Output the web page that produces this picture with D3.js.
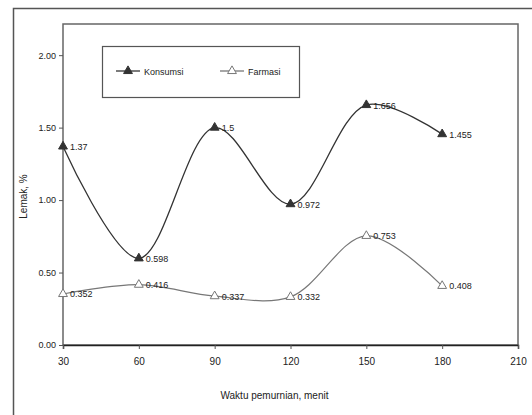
<!DOCTYPE html>
<html>
<head>
<meta charset="utf-8">
<script src="https://cdn.jsdelivr.net/npm/d3@7/dist/d3.min.js"></script>
<style>
  html, body { margin: 0; padding: 0; background: #fff; }
  svg { display: block; font-family: "Liberation Sans", Arial, sans-serif; }
</style>
</head>
<body>
<svg id="chart" width="532" height="415"></svg>
<script>
// Fat content (%) by purification time (minutes)
const waktu = [30, 60, 90, 120, 150, 180];
const konsumsi = [1.37, 0.598, 1.50, 0.972, 1.656, 1.455];
const farmasi = [0.352, 0.416, 0.337, 0.332, 0.753, 0.408];
const konsumsiLabels = ["1.37", "0.598", "1.5", "0.972", "1.656", "1.455"];
const farmasiLabels = ["0.352", "0.416", "0.337", "0.332", "0.753", "0.408"];
const xTicks = [30, 60, 90, 120, 150, 180, 210];
const yTicks = [0, 0.5, 1.0, 1.5, 2.0];
const seriesNames = ["Konsumsi", "Farmasi"];

const svg = d3.select("#chart");
const plot = { left: 63, right: 518, top: 24, bottom: 345 };

const x = d3.scaleLinear().domain([30, 210]).range([plot.left, plot.right]);
const y = d3.scaleLinear().domain([0, 2.215]).range([plot.bottom, plot.top]);

// outer frame
svg.append("path")
  .attr("d", "M13.5,415 L13.5,8.5 L532,8.5")
  .attr("fill", "none").attr("stroke", "#555").attr("stroke-width", 1.5);

// plot area box
svg.append("rect")
  .attr("x", plot.left).attr("y", plot.top)
  .attr("width", plot.right - plot.left).attr("height", plot.bottom - plot.top)
  .attr("fill", "none").attr("stroke", "#666").attr("stroke-width", 1.5);

// axes
const xAxis = d3.axisBottom(x).tickValues(xTicks).tickSize(4).tickFormat(d3.format("d"));
const gx = svg.append("g").attr("transform", `translate(0,${plot.bottom})`).call(xAxis);
gx.select(".domain").attr("stroke", "#222").attr("stroke-width", 1.5);
gx.selectAll(".tick line").attr("stroke", "#555");
gx.selectAll("text").attr("font-size", 10).attr("fill", "#222").attr("dy", "1.3em");

const yAxis = d3.axisLeft(y).tickValues(yTicks).tickSize(4).tickFormat(d3.format(".2f"));
const gy = svg.append("g").attr("transform", `translate(${plot.left},0)`).call(yAxis);
gy.select(".domain").remove();
gy.selectAll(".tick line").attr("stroke", "#555");
gy.selectAll("text").attr("font-size", 9).attr("fill", "#222");

// axis titles
svg.append("text")
  .attr("x", (plot.left + plot.right) / 2 - 16).attr("y", 399)
  .attr("text-anchor", "middle").attr("font-size", 10).attr("fill", "#222")
  .text("Waktu pemurnian, menit");
svg.append("text")
  .attr("transform", `translate(27,${(plot.top + plot.bottom) / 2 + 12}) rotate(-90)`)
  .attr("text-anchor", "middle").attr("font-size", 10).attr("fill", "#222")
  .text("Lemak, %");

const line = d3.line().x(d => x(d[0])).y(d => y(d[1])).curve(d3.curveCatmullRom.alpha(0.5));
const tri = d3.symbol().type(d3.symbolTriangle).size(34);

function drawSeries(values, labels, color, filled, width) {
  const pts = waktu.map((w, i) => [w, values[i]]);
  svg.append("path").datum(pts)
    .attr("d", line).attr("fill", "none")
    .attr("stroke", color).attr("stroke-width", width);
  svg.selectAll(null).data(pts).enter().append("path")
    .attr("d", tri)
    .attr("transform", d => `translate(${x(d[0])},${y(d[1])})`)
    .attr("fill", filled ? color : "#fff")
    .attr("stroke", color).attr("stroke-width", 1);
  svg.selectAll(null).data(pts).enter().append("text")
    .attr("x", d => x(d[0]) + 7).attr("y", d => y(d[1]) + 3.5)
    .attr("font-size", 9).attr("fill", "#222")
    .text((d, i) => labels[i]);
}

drawSeries(konsumsi, konsumsiLabels, "#333", true, 1.3);
drawSeries(farmasi, farmasiLabels, "#777", false, 1.2);

// legend
const lg = svg.append("g");
lg.append("rect").attr("x", 102.5).attr("y", 46.5).attr("width", 197).attr("height", 51)
  .attr("fill", "#fff").attr("stroke", "#555").attr("stroke-width", 1.2);
const legendItems = [
  { name: seriesNames[0], color: "#333", filled: true, x0: 116 },
  { name: seriesNames[1], color: "#777", filled: false, x0: 220 }
];
legendItems.forEach(it => {
  lg.append("line").attr("x1", it.x0).attr("x2", it.x0 + 24).attr("y1", 71).attr("y2", 71)
    .attr("stroke", it.color).attr("stroke-width", 1.3);
  lg.append("path").attr("d", tri).attr("transform", `translate(${it.x0 + 12},71)`)
    .attr("fill", it.filled ? it.color : "#fff").attr("stroke", it.color);
  lg.append("text").attr("x", it.x0 + 28).attr("y", 74.5)
    .attr("font-size", 9).attr("fill", "#222").text(it.name);
});
</script>
</body>
</html>
